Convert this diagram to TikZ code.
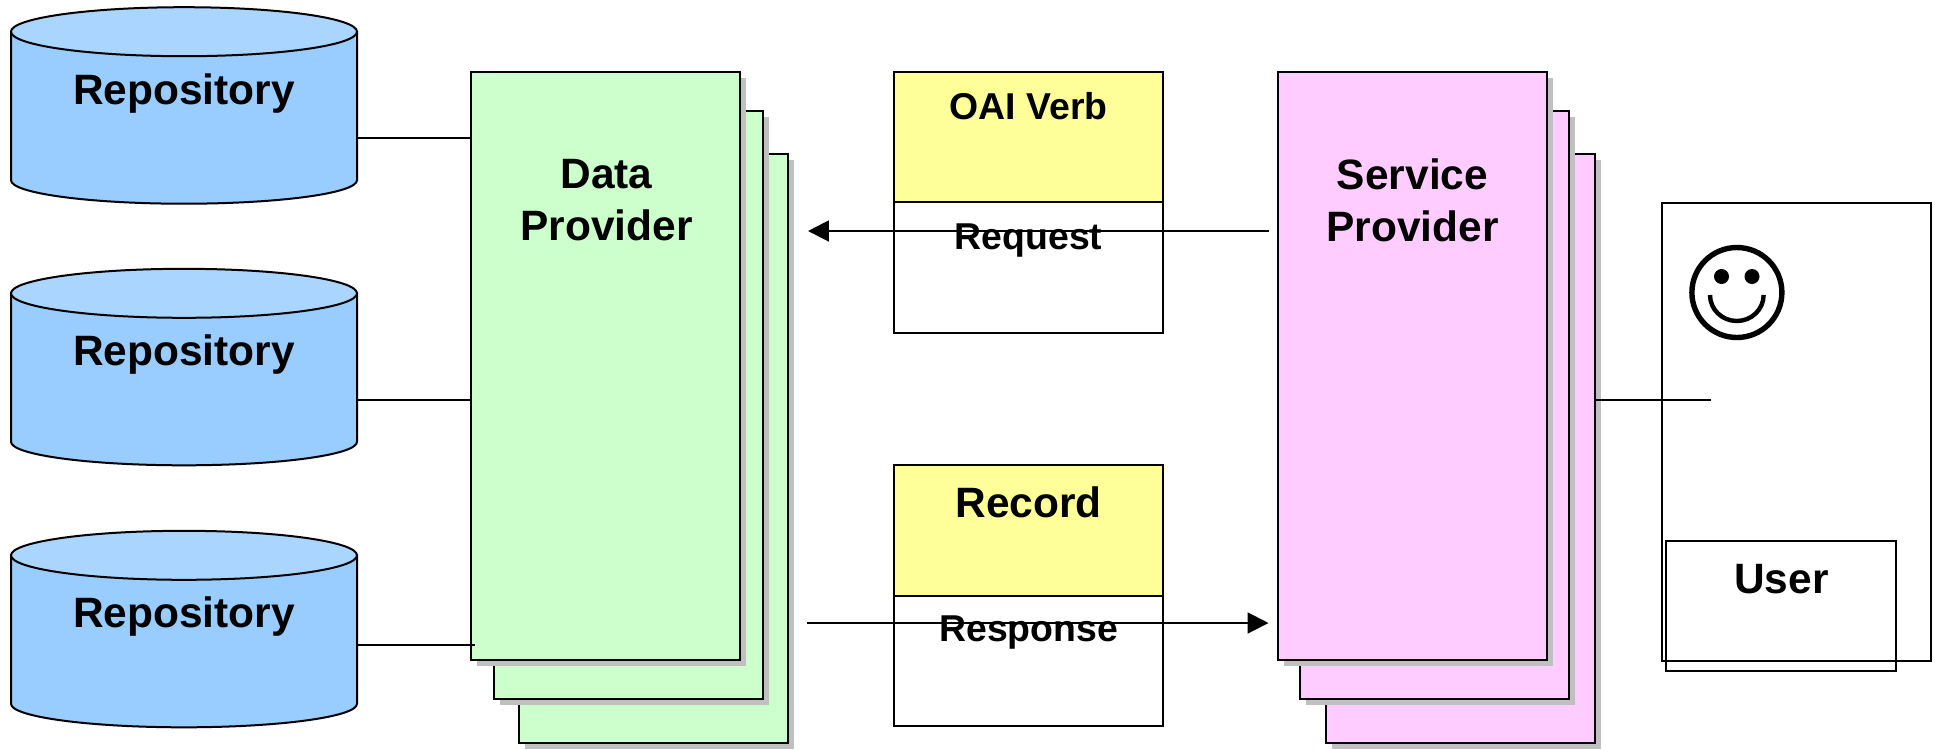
\documentclass[tikz,border=0pt]{standalone}
\usepackage{fontspec}
\setmainfont{Liberation Sans}
\usetikzlibrary{calc,arrows.meta}
\definecolor{repobody}{HTML}{99CCFF}
\definecolor{repotop}{HTML}{AAD5FF}
\definecolor{dpgreen}{HTML}{CCFFCC}
\definecolor{sppink}{HTML}{FFCCFF}
\definecolor{msgyellow}{HTML}{FFFF99}
\definecolor{sheetshadow}{HTML}{C0C0C0}
\tikzset{
	ln/.style={line width=.5mm},
	sheet/.style={ln,draw,anchor=north west,inner sep=0,outer sep=0,minimum width=67.25mm,minimum height=147.1mm},
	msgbox/.style={ln,draw,anchor=north west,inner sep=0,outer sep=0,minimum width=67.2mm,minimum height=32.65mm},
	bigtxt/.style={font=\bfseries\fontsize{30.2}{36.8}\selectfont,anchor=base,inner sep=0},
	smalltxt/.style={font=\bfseries\fontsize{26.6}{32}\selectfont,anchor=base,inner sep=0},
	twolines/.style={font=\bfseries\fontsize{30.2}{36.8}\selectfont,align=center,inner sep=0},
	tip/.style={-{Triangle[length=5.2mm,width=5.2mm]}}
}
\begin{document}
\begin{tikzpicture}[x=.25mm,y=-.25mm]
	\useasboundingbox (0,0) rectangle (1937,749);
	
	%repositories
	\foreach \nm/\yy in {A/31.7,B/293.3,C/555.3}{
		\draw[ln,fill=repobody] (11,\yy) -- ++(0,148.5) arc[x radius=173,y radius=23.5,start angle=180,end angle=0] -- ++(0,-148.5) -- cycle;
		\draw[ln,fill=repotop] (184,\yy) ellipse[x radius=173,y radius=24.5];
		\node[bigtxt] (repo\nm) at (184,\yy+72.6) {Repository};
	}
	
	%data provider
	\foreach \nm/\xx/\yy in {C/519.4/154.3,B/494/110.7,A/471.2/72}{
		\fill[sheetshadow] (\xx+6,\yy+6) rectangle ++(269,588.4);
		\node[sheet,fill=dpgreen] (dp\nm) at (\xx,\yy) {};
	}
	\node[twolines] (dptxt) at (606.5,200.3) {Data\\Provider};
	
	%service provider
	\foreach \nm/\xx/\yy in {C/1325.8/154.3,B/1300.4/110.7,A/1278/72}{
		\fill[sheetshadow] (\xx+6,\yy+6) rectangle ++(269,588.4);
		\node[sheet,fill=sppink] (sp\nm) at (\xx,\yy) {};
	}
	\node[twolines] (sptxt) at (1412.5,200.3) {Service\\Provider};
	
	%messages
	\node[msgbox,fill=msgyellow] (verb) at (894.4,71.6) {};
	\node[msgbox,anchor=north] (request) at (verb.south) {};
	\node[msgbox,fill=msgyellow] (record) at (894.4,465) {};
	\node[msgbox,anchor=north] (response) at (record.south) {};
	\node[smalltxt] (verbtxt) at (1028.6,119.5) {OAI Verb};
	\node[smalltxt] (requesttxt) at (1028.6,249) {Request};
	\node[bigtxt] (recordtxt) at (1028.6,517.7) {Record};
	\node[smalltxt] (responsetxt) at (1028.6,641.3) {Response};
	
	%user
	\node[ln,draw,anchor=north west,inner sep=0,outer sep=0,minimum width=67.25mm,minimum height=114.4mm] (usr) at (1662.4,203.4) {};
	\node[ln,draw,anchor=north west,inner sep=0,outer sep=0,minimum width=57.6mm,minimum height=32.4mm] (usrbox) at (1666,541.4) {};
	\node[bigtxt] (usrtxt) at (1781.5,593) {User};
	
	%smiley
	\draw[line width=1.35mm] (1736.9,292.5) circle[radius=45];
	\fill (1721.5,276.5) circle[radius=7.5];
	\fill (1752,276.5) circle[radius=7.5];
	\draw[line width=1.1mm] (1710,295) arc[x radius=26.8,y radius=26,start angle=180,end angle=0];
	
	%connectors
	\coordinate (repooutA) at (357,137.9);
	\coordinate (repooutB) at (357,399.6);
	\coordinate (repooutC) at (358,645);
	\coordinate (dpinA) at (471.2,137.9);
	\coordinate (dpinB) at (471.2,399.6);
	\coordinate (dpinC) at (475.2,645);
	\coordinate (spout) at (1595.3,400);
	\coordinate (usrin) at (1711,400);
	\foreach \nm in {A,B,C}{
		\draw[ln] (repoout\nm) -- (dpin\nm);
	}
	\draw[ln] (spout) -- (usrin);
	
	\coordinate (reqfrom) at (1268.7,231);
	\coordinate (reqto) at (808,231);
	\coordinate (respfrom) at (807,623);
	\coordinate (respto) at (1268.5,623);
	\draw[ln,tip] (reqfrom) -- (reqto);
	\draw[ln,tip] (respfrom) -- (respto);
\end{tikzpicture}
\end{document}
